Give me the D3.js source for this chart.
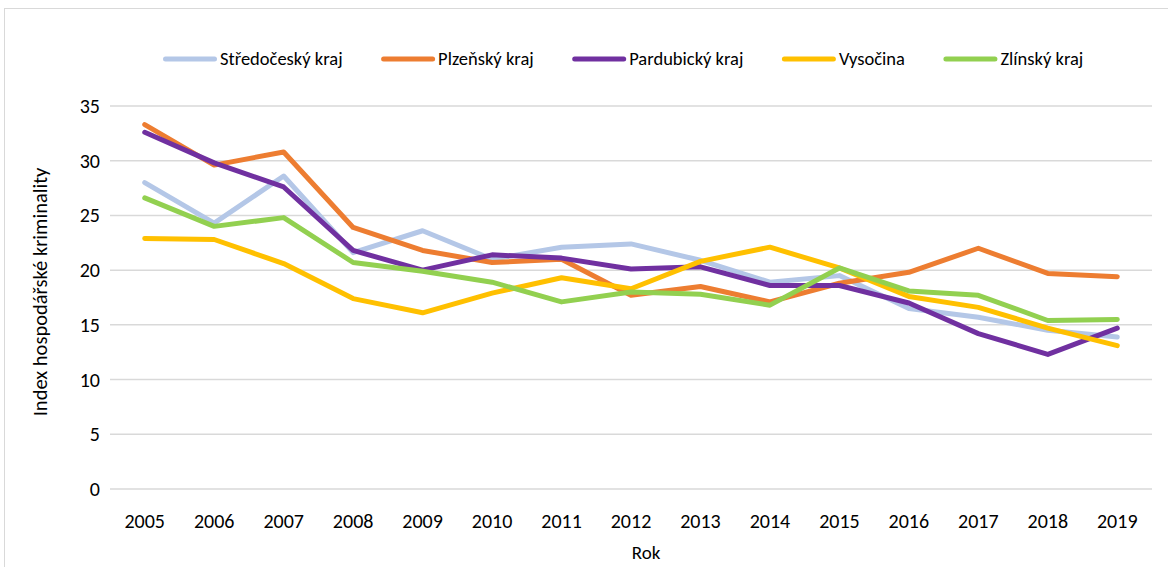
<!DOCTYPE html>
<html>
<head>
<meta charset="utf-8">
<script src="https://cdn.jsdelivr.net/npm/d3@7"></script>
<style>
  body { margin: 0; background: #fff; }
  text { font-family: Carlito, Calibri, Lato, sans-serif; fill: #000; }
</style>
</head>
<body>
<svg id="chart" width="1168" height="567"></svg>
<script>
const years = ['2005','2006','2007','2008','2009','2010','2011','2012','2013','2014','2015','2016','2017','2018','2019'];
const stredocesky = [28.0, 24.3, 28.6, 21.6, 23.6, 21.0, 22.1, 22.4, 20.9, 18.9, 19.5, 16.5, 15.7, 14.5, 13.9];
const plzensky    = [33.3, 29.6, 30.8, 23.9, 21.8, 20.7, 21.0, 17.7, 18.5, 17.1, 18.8, 19.8, 22.0, 19.7, 19.4];
const pardubicky  = [32.6, 29.8, 27.6, 21.8, 20.0, 21.4, 21.1, 20.1, 20.3, 18.6, 18.6, 17.0, 14.2, 12.3, 14.7];
const vysocina    = [22.9, 22.8, 20.6, 17.4, 16.1, 17.9, 19.3, 18.3, 20.8, 22.1, 20.2, 17.6, 16.6, 14.7, 13.1];
const zlinsky     = [26.6, 24.0, 24.8, 20.7, 19.9, 18.9, 17.1, 18.0, 17.8, 16.8, 20.2, 18.1, 17.7, 15.4, 15.5];
const yTicks = [0, 5, 10, 15, 20, 25, 30, 35];

const series = [
  { name: 'Středočeský kraj', values: stredocesky, color: '#b4c7e7' },
  { name: 'Plzeňský kraj', values: plzensky, color: '#ed7d31' },
  { name: 'Pardubický kraj', values: pardubicky, color: '#7030a0' },
  { name: 'Vysočina', values: vysocina, color: '#ffc000' },
  { name: 'Zlínský kraj', values: zlinsky, color: '#92d050' }
];

const svg = d3.select('#chart');

// chart frame
svg.append('rect')
  .attr('x', 4.5).attr('y', 8.5)
  .attr('width', 1180).attr('height', 580)
  .attr('fill', 'none')
  .attr('stroke', '#d9d9d9');

const x = d3.scaleBand().domain(years).range([110, 1152]);
const y = d3.scaleLinear().domain([0, 35]).range([489, 106]);

// gridlines
svg.append('g')
  .selectAll('line')
  .data(yTicks)
  .join('line')
  .attr('x1', 110).attr('x2', 1152)
  .attr('y1', d => y(d)).attr('y2', d => y(d))
  .attr('stroke', '#d9d9d9')
  .attr('stroke-width', 1.5);

// y labels
svg.append('g')
  .selectAll('text')
  .data(yTicks)
  .join('text')
  .attr('x', 100)
  .attr('y', d => y(d))
  .attr('dy', '0.35em')
  .attr('text-anchor', 'end')
  .style('font-size', '20px')
  .text(d => d);

// x labels
svg.append('g')
  .selectAll('text')
  .data(years)
  .join('text')
  .attr('x', d => x(d) + x.bandwidth() / 2)
  .attr('y', 528)
  .attr('text-anchor', 'middle')
  .style('font-size', '20px')
  .text(d => d);

// axis titles
svg.append('text')
  .attr('x', 646).attr('y', 559)
  .attr('text-anchor', 'middle')
  .style('font-size', '19px')
  .text('Rok');

svg.append('text')
  .attr('transform', 'translate(47,292) rotate(-90)')
  .attr('text-anchor', 'middle')
  .style('font-size', '20.5px')
  .text('Index hospodářské kriminality');

// lines
const line = d3.line()
  .x((d, i) => x(years[i]) + x.bandwidth() / 2)
  .y(d => y(d));

svg.append('g')
  .selectAll('path')
  .data(series)
  .join('path')
  .attr('d', d => line(d.values))
  .attr('fill', 'none')
  .attr('stroke', d => d.color)
  .attr('stroke-width', 5)
  .attr('stroke-linejoin', 'round')
  .attr('stroke-linecap', 'round');

// legend
const legend = svg.append('g');
let lx = 165.5;
series.forEach(s => {
  const g = legend.append('g');
  g.append('line')
    .attr('x1', lx).attr('x2', lx + 49)
    .attr('y1', 59).attr('y2', 59)
    .attr('stroke', s.color)
    .attr('stroke-width', 5)
    .attr('stroke-linecap', 'round');
  const t = g.append('text')
    .attr('x', lx + 54.5)
    .attr('y', 59)
    .attr('dy', '0.35em')
    .style('font-size', '18.5px')
    .text(s.name);
  lx += 54.5 + t.node().getComputedTextLength() + 41;
});
</script>
</body>
</html>
